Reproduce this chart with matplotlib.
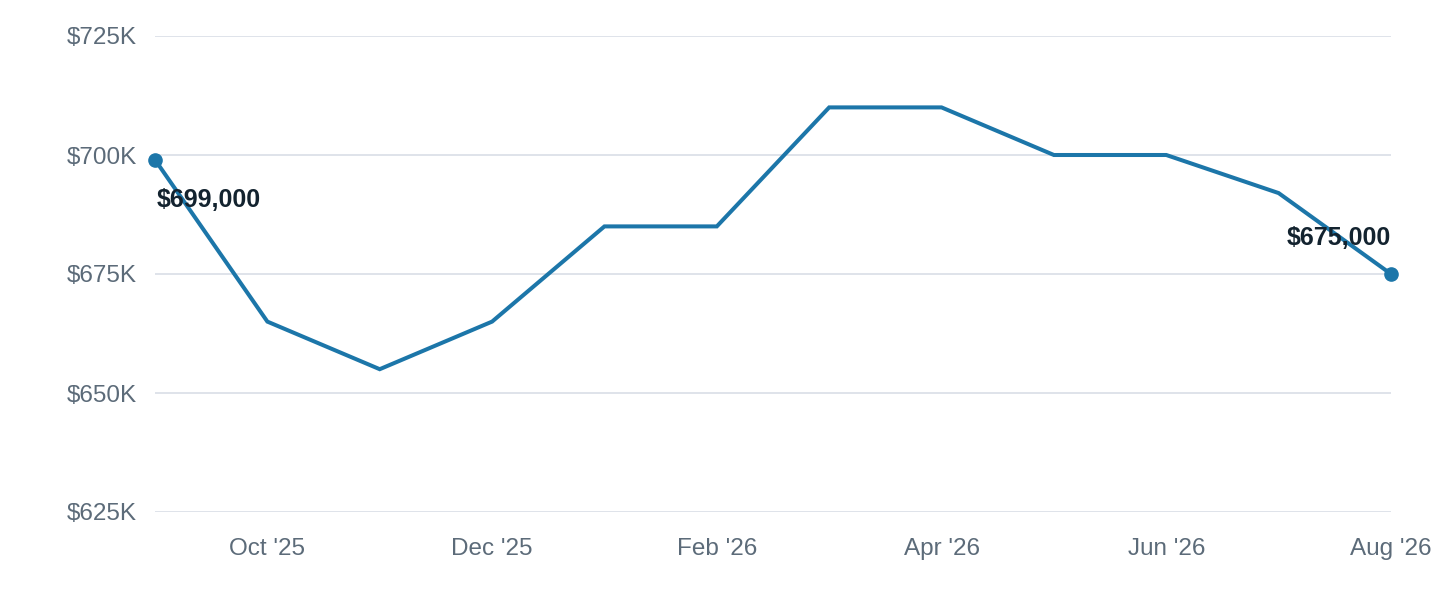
import matplotlib
matplotlib.use('Agg')
import matplotlib.pyplot as plt

months = ["Sep '25", "Oct '25", "Nov '25", "Dec '25", "Jan '26", "Feb '26",
          "Mar '26", "Apr '26", "May '26", "Jun '26", "Jul '26", "Aug '26"]
prices = [699, 665, 655, 665, 685, 685, 710, 710, 700, 700, 692, 675]  # $K
yticks = [625, 650, 675, 700, 725]
first_label = '$699,000'
last_label = '$675,000'

line_color = '#1c76a9'
grid_color = '#dfe3ea'
tick_color = '#5c6b79'

plt.rcParams['font.family'] = ['Liberation Sans', 'DejaVu Sans']

fig = plt.figure(figsize=(14.4, 6), dpi=100)
ax = fig.add_axes([155/1440, 1 - 512/600, (1391 - 155)/1440, (512 - 36)/600])

x = list(range(len(months)))
ax.plot(x, prices, color=line_color, lw=2.9, solid_joinstyle='miter', zorder=3)
ax.plot([x[0], x[-1]], [prices[0], prices[-1]], 'o', color=line_color,
        ms=9.5, zorder=4, clip_on=False)

ax.annotate(first_label, (x[0], prices[0]), xytext=(1, -29), textcoords='offset points',
            ha='left', va='center', fontsize=18, fontweight='bold', color='#13232f', zorder=5)
ax.annotate(last_label, (x[-1], prices[-1]), xytext=(0, 26), textcoords='offset points',
            ha='right', va='center', fontsize=18, fontweight='bold', color='#13232f', zorder=5)

ax.set_xlim(0, len(months) - 1)
ax.set_ylim(625, 725)
ax.set_yticks(yticks)
ax.set_yticklabels(['$%dK' % v for v in yticks])
ax.set_xticks(x[1::2])
ax.set_xticklabels(months[1::2])
ax.grid(axis='y', color=grid_color, lw=1.4)
ax.set_axisbelow(True)
for s in ax.spines.values():
    s.set_visible(False)
ax.tick_params(axis='both', length=0, labelsize=17.5, labelcolor=tick_color)
ax.tick_params(axis='y', pad=13)
ax.tick_params(axis='x', pad=19)

plt.savefig('out.png', dpi=100)
